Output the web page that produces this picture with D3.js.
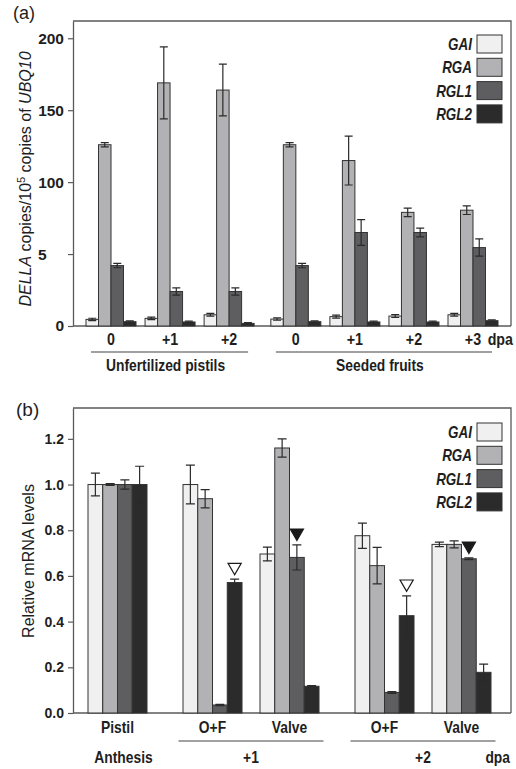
<!DOCTYPE html>
<html>
<head>
<meta charset="utf-8">
<script src="https://d3js.org/d3.v7.min.js"></script>
<style>
body { margin: 0; background: #fff; }
text { font-family: "Liberation Sans", Arial, sans-serif; fill: #1e1e1e; }
</style>
</head>
<body>
<script>
//genes and their fills, shared by both panels
var genes = ["GAI", "RGA", "RGL1", "RGL2"];
var geneColors = ["#f0f0f0", "#b2b2b5", "#5e5e61", "#2b2b2c"];

//panel (a): absolute copies
var aSets = ["Unfertilized pistils", "Seeded fruits"];
var aDays = ["0", "+1", "+2", "0", "+1", "+2", "+3"];
var aSetOf = [0, 0, 0, 1, 1, 1, 1];
var aGAI = [4.6, 5.3, 7.8, 4.8, 6.5, 6.9, 7.8];
var aRGA = [126, 169, 164, 126, 115, 79, 80.5];
var aRGL1 = [42, 24, 24, 42, 65, 65, 54.5];
var aRGL2 = [3, 2.8, 1.8, 3, 2.8, 2.8, 3.7];
var aGAIerr = [0.8, 0.8, 1, 0.8, 1, 1, 1];
var aRGAerr = [1.5, 25, 18, 1.5, 17, 3, 3];
var aRGL1err = [1.5, 2.5, 2.5, 1.5, 9, 3, 6];
var aRGL2err = [0.6, 0.6, 0.5, 0.6, 0.6, 0.6, 0.6];
var aTicks = [0, 50, 100, 150, 200];
var aTickLabels = ["0", "5", "100", "150", "200"];

//panel (b): relative levels
var bTimes = ["Anthesis", "+1", "+2"];
var bCats = ["Pistil", "O+F", "Valve", "O+F", "Valve"];
var bTimeOf = [0, 1, 1, 2, 2];
var bGAI = [1.0, 1.0, 0.696, 0.776, 0.738];
var bRGA = [1.0, 0.938, 1.16, 0.645, 0.738];
var bRGL1 = [1.0, 0.035, 0.681, 0.09, 0.675];
var bRGL2 = [1.0, 0.571, 0.117, 0.426, 0.178];
var bGAIerr = [0.05, 0.085, 0.03, 0.055, 0.01];
var bRGAerr = [0.004, 0.04, 0.04, 0.08, 0.015];
var bRGL1err = [0.02, 0.003, 0.055, 0.004, 0.004];
var bRGL2err = [0.08, 0.015, 0.003, 0.087, 0.036];
var bTicks = [0, 0.2, 0.4, 0.6, 0.8, 1.0, 1.2];
//triangle marks: category, gene, filled
var markCat = [1, 2, 3, 4];
var markGene = [3, 2, 3, 2];
var markFilled = [false, true, false, true];

window.onload = setChart();

function setChart(){
    var width = 516,
        height = 769;

    var svg = d3.select("body")
        .append("svg")
        .attr("width", width)
        .attr("height", height);

    var frameColor = "#5a5a5a";

    //condensed bold label, squeezed horizontally around its anchor
    function cond(sel, size, x, y){
        sel.attr("transform", function(d, i){
                var px = typeof x === "function" ? x(d, i) : x;
                return "translate(" + px + "," + y + ") scale(0.84,1)";
            })
            .style("font-size", size + "px")
            .style("font-weight", "bold");
    }

    //panel (a) scales
    var aLeft = 73, aRight = 511, aTop = 21, aBottom = 326;
    var yA = d3.scaleLinear().domain([0, 212]).range([aBottom, aTop]);
    var aPos = aDays.map(function(d, i){ return i + 0.13 * aSetOf[i]; });
    var xA = d3.scaleLinear().domain([0, 6.13]).range([111, 473]);
    var gA = d3.scaleBand().domain(genes).range([-25, 25]);

    var aVals = [aGAI, aRGA, aRGL1, aRGL2],
        aErrs = [aGAIerr, aRGAerr, aRGL1err, aRGL2err];

    drawPanel(svg, {
        left: aLeft, right: aRight, top: aTop, bottom: aBottom,
        y: yA, x: xA, g: gA, pos: aPos, vals: aVals, errs: aErrs,
        n: aDays.length, capW: 8
    });

    //y axis (a); the "5" label sits left like in the figure
    var axA = svg.append("g")
        .attr("transform", "translate(" + aLeft + ",0)")
        .call(d3.axisLeft(yA).tickValues(aTicks).tickSize(5).tickSizeOuter(0).tickPadding(4)
            .tickFormat(function(d, i){ return aTickLabels[i]; }))
        .call(styleAxis, 15.5);
    axA.selectAll(".tick text")
        .filter(function(d){ return d === 50; })
        .attr("text-anchor", "start")
        .attr("x", -35);

    //x labels (a)
    svg.append("g").selectAll("text")
        .data(aDays)
        .enter()
        .append("text")
        .attr("text-anchor", "middle")
        .call(cond, 17, function(d, i){ return xA(aPos[i]); }, 345)
        .text(function(d){ return d; });

    svg.append("text")
        .attr("text-anchor", "end")
        .call(cond, 17, 513, 345)
        .text("dpa");

    aSets.forEach(function(s, k){
        var p = aPos.filter(function(d, i){ return aSetOf[i] === k; });
        var x0 = xA(d3.min(p)) - 20,
            x1 = xA(d3.max(p)) + 19;
        svg.append("line")
            .attr("x1", x0).attr("x2", x1)
            .attr("y1", 352).attr("y2", 352)
            .attr("stroke", "#444").attr("stroke-width", 1.2);
        svg.append("text")
            .attr("text-anchor", "middle")
            .call(cond, 16.5, (x0 + x1) / 2 - 4, 371)
            .text(s);
    });

    //y title (a)
    var ta = svg.append("text")
        .attr("transform", "translate(31,179) rotate(-90)")
        .attr("text-anchor", "middle")
        .style("font-size", "16px");
    ta.append("tspan").style("font-style", "italic").text("DELLA");
    ta.append("tspan").text(" copies/10");
    ta.append("tspan").attr("baseline-shift", "super").style("font-size", "11px").text("5");
    ta.append("tspan").text(" copies of ");
    ta.append("tspan").style("font-style", "italic").text("UBQ10");

    svg.append("text").attr("x", 13).attr("y", 19)
        .style("font-size", "18px").text("(a)");

    drawLegend(svg, 472, 35);

    //panel (b) scales
    var bLeft = 73, bRight = 511, bTop = 408, bBottom = 713;
    var yB = d3.scaleLinear().domain([0, 1.335]).range([bBottom, bTop]);
    var bPos = bCats.map(function(d, i){ return i + 0.234 * bTimeOf[i]; });
    var xB = d3.scaleLinear().domain([0, 4.468]).range([117.5, 461.5]);
    var gB = d3.scaleBand().domain(genes).range([-29.5, 29.5]);

    var bVals = [bGAI, bRGA, bRGL1, bRGL2],
        bErrs = [bGAIerr, bRGAerr, bRGL1err, bRGL2err];

    drawPanel(svg, {
        left: bLeft, right: bRight, top: bTop, bottom: bBottom,
        y: yB, x: xB, g: gB, pos: bPos, vals: bVals, errs: bErrs,
        n: bCats.length, capW: 9
    });

    svg.append("g")
        .attr("transform", "translate(" + bLeft + ",0)")
        .call(d3.axisLeft(yB).tickValues(bTicks).tickSize(5).tickSizeOuter(0).tickPadding(4)
            .tickFormat(d3.format(".1f")))
        .call(styleAxis, 14);

    //triangle marks above bars
    var tri = d3.symbol().type(d3.symbolTriangle).size(75);
    svg.append("g").selectAll("path")
        .data(markCat)
        .enter()
        .append("path")
        .attr("d", tri)
        .attr("transform", function(c, i){
            var gi = markGene[i];
            var cx = xB(bPos[c]) + gB(genes[gi]) + gB.bandwidth() / 2;
            var cy = yB(bVals[gi][c] + bErrs[gi][c]) - 12;
            return "translate(" + cx + "," + cy + ") rotate(180)";
        })
        .attr("fill", function(c, i){ return markFilled[i] ? "#1a1a1a" : "#fff"; })
        .attr("stroke", "#1a1a1a")
        .attr("stroke-width", 1.2);

    //x labels (b)
    svg.append("g").selectAll("text")
        .data(bCats)
        .enter()
        .append("text")
        .attr("text-anchor", "middle")
        .call(cond, 16.5, function(d, i){ return xB(bPos[i]); }, 733)
        .text(function(d){ return d; });

    bTimes.forEach(function(t, k){
        var p = bPos.filter(function(d, i){ return bTimeOf[i] === k; });
        var x0 = xB(d3.min(p)),
            x1 = xB(d3.max(p));
        if (p.length > 1) {
            svg.append("line")
                .attr("x1", x0 - 34).attr("x2", x1 + 34)
                .attr("y1", 741).attr("y2", 741)
                .attr("stroke", "#444").attr("stroke-width", 1.2);
        }
        svg.append("text")
            .attr("text-anchor", "middle")
            .call(cond, 16.5, (x0 + x1) / 2 + (k === 0 ? 6 : 0), 763)
            .text(t);
    });

    svg.append("text")
        .attr("text-anchor", "end")
        .call(cond, 16.5, 510, 763)
        .text("dpa");

    svg.append("text")
        .attr("transform", "translate(34,561) rotate(-90)")
        .attr("text-anchor", "middle")
        .style("font-size", "16px")
        .text("Relative mRNA levels");

    svg.append("text").attr("x", 16).attr("y", 416)
        .style("font-size", "19px").text("(b)");

    drawLegend(svg, 472, 423);

    //frame + bars + error bars for one panel
    function drawPanel(svg, o){
        var frame = svg.append("g");
        frame.append("path")
            .attr("d", "M" + o.left + "," + o.top + "H" + o.right + "V" + o.bottom)
            .attr("fill", "none").attr("stroke", frameColor).attr("stroke-width", 1.3);
        frame.append("line")
            .attr("x1", o.left).attr("x2", o.right)
            .attr("y1", o.bottom).attr("y2", o.bottom)
            .attr("stroke", frameColor).attr("stroke-width", 1.3);

        var rows = [];
        for (var i = 0; i < o.n; i++) {
            for (var g = 0; g < genes.length; g++) {
                rows.push({i: i, g: g, v: o.vals[g][i], e: o.errs[g][i]});
            }
        }

        svg.append("g").selectAll("rect")
            .data(rows)
            .enter()
            .append("rect")
            .attr("x", function(d){ return o.x(o.pos[d.i]) + o.g(genes[d.g]); })
            .attr("y", function(d){ return o.y(d.v); })
            .attr("width", o.g.bandwidth())
            .attr("height", function(d){ return o.bottom - o.y(d.v); })
            .attr("fill", function(d){ return geneColors[d.g]; })
            .attr("stroke", "#333")
            .attr("stroke-width", 1);

        svg.append("g").attr("stroke", "#2a2a2a").attr("stroke-width", 1.2)
            .selectAll("path")
            .data(rows)
            .enter()
            .append("path")
            .attr("fill", "none")
            .attr("d", function(d){
                var cx = o.x(o.pos[d.i]) + o.g(genes[d.g]) + o.g.bandwidth() / 2,
                    y0 = o.y(d.v - d.e),
                    y1 = o.y(d.v + d.e),
                    h = o.capW / 2;
                return "M" + cx + "," + y0 + "V" + y1 +
                    "M" + (cx - h) + "," + y0 + "H" + (cx + h) +
                    "M" + (cx - h) + "," + y1 + "H" + (cx + h);
            });
    }

    function styleAxis(sel, size){
        sel.select(".domain").attr("stroke", frameColor).attr("stroke-width", 1.3);
        sel.selectAll(".tick line").attr("stroke", frameColor).attr("stroke-width", 1.2);
        sel.selectAll(".tick text")
            .attr("fill", "#1e1e1e")
            .style("font-family", "'Liberation Sans', Arial, sans-serif")
            .style("font-size", size + "px")
            .style("font-weight", "bold");
    }

    function drawLegend(svg, xr, y0){
        var leg = svg.append("g").selectAll("g")
            .data(genes)
            .enter()
            .append("g")
            .attr("transform", function(d, i){ return "translate(" + xr + "," + (y0 + i * 23.3) + ")"; });
        leg.append("rect")
            .attr("x", 5).attr("y", 0)
            .attr("width", 25).attr("height", 18)
            .attr("fill", function(d, i){ return geneColors[i]; })
            .attr("stroke", "#333").attr("stroke-width", 1);
        leg.append("text")
            .attr("text-anchor", "end")
            .call(cond, 16, 0, 15)
            .style("font-style", "italic")
            .text(function(d){ return d; });
    }
}
</script>
</body>
</html>
